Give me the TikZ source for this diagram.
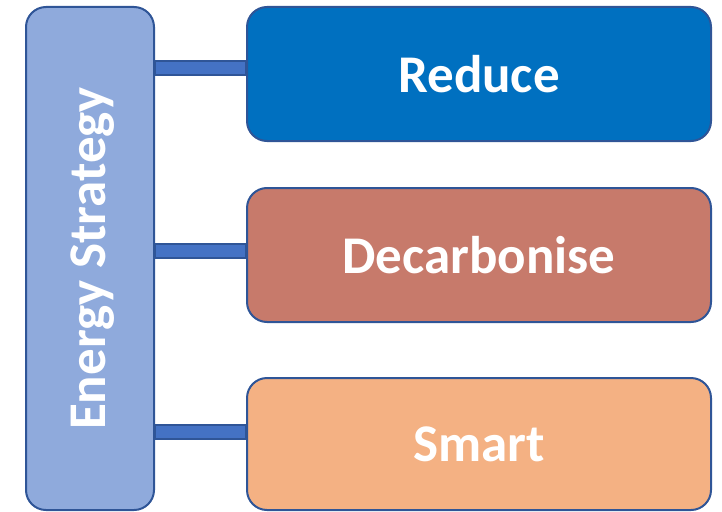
\documentclass[tikz,border=0pt]{standalone}
\usepackage{fontspec}
\setmainfont{Carlito}
\usetikzlibrary{positioning}
\definecolor{stratfill}{HTML}{8FAADC}
\definecolor{edgeblue}{HTML}{2F5597}
\definecolor{barblue}{HTML}{4472C4}
\definecolor{reducefill}{HTML}{0070C0}
\definecolor{decarbfill}{HTML}{C77A6B}
\definecolor{smartfill}{HTML}{F4B183}

\begin{document}
\begin{tikzpicture}[
            x=1pt, y=-1pt,
            box/.style={draw=edgeblue, line width=2pt, rounded corners=20pt, inner sep=0pt},
            branch/.style={box, minimum width=464pt, minimum height=134pt, text=white,
                font=\fontsize{53}{63}\selectfont\bfseries},
            bar/.style={draw=edgeblue, line width=1.6pt, fill=barblue}]

        \useasboundingbox (0,0) rectangle (722,511);

        % the strategy column
        \node[box, fill=stratfill, minimum width=128pt, minimum height=503pt,
              anchor=north west] (strategy) at (25,6) {};
        \node[rotate=90, text=white, font=\fontsize{53}{63}\selectfont\bfseries]
              (stratlabel) at ([xshift=3pt]strategy.center) {Energy Strategy};

        % the three branches
        \node[branch, fill=reducefill, anchor=north west] (reduce) at (246,6) {Reduce};
        \node[branch, fill=decarbfill, anchor=north west] (decarb) at (246,187) {Decarbonise};
        \node[branch, fill=smartfill, anchor=north west, minimum height=132pt] (smart) at (246,377) {Smart};

        % connecting bars
        \draw[bar] (strategy.east |- 0,61) rectangle (reduce.west |- 0,75);
        \draw[bar] (strategy.east |- 0,244) rectangle (decarb.west |- 0,258);
        \draw[bar] (strategy.east |- 0,425) rectangle (smart.west |- 0,439);
    \end{tikzpicture}
\end{document}
